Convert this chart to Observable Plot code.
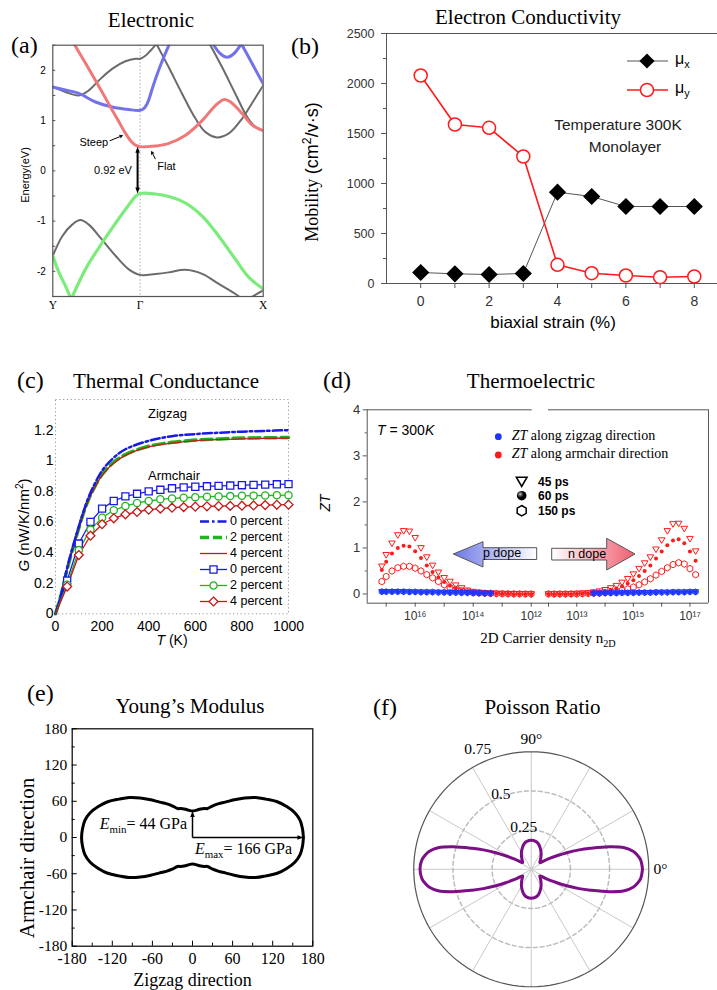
<!DOCTYPE html>
<html>
<head>
<meta charset="utf-8">
<script src="https://cdn.jsdelivr.net/npm/d3@7"></script>
<script src="https://cdn.jsdelivr.net/npm/@observablehq/plot@0.6"></script>
<style>
html,body{margin:0;padding:0;background:#fff;overflow:hidden;}
#fig{position:relative;width:717px;height:990px;overflow:hidden;background:#fff;}
.abs{position:absolute;white-space:nowrap;line-height:1;}
.abs sub,.abs sup{line-height:0;font-size:0.68em;}
</style>
</head>
<body>
<div id="fig"></div>
<script>
// ================= DATA =================
// (a) Band structure: k along Y–Γ–X (Y=0, Γ=0.415, X=1), energy (eV)
const kTickPos = [0, 0.415, 1];
const kTickLab = ["Y", "Γ", "X"];
const redK   = [0.105,0.15,0.203,0.245,0.282,0.315,0.345,0.37,0.39,0.415,0.45,0.488,0.551,0.631,0.71,0.773,0.815,0.845,0.9,0.948,1.0];
const redE   = [2.5,2.18,1.80,1.49,1.21,0.97,0.75,0.6,0.52,0.48,0.482,0.494,0.547,0.71,1.0,1.30,1.42,1.37,1.14,0.91,0.80];
const blueAK = [0,0.06,0.124,0.203,0.282,0.361,0.415,0.432,0.449,0.48,0.512,0.552];
const blueAE = [1.67,1.61,1.54,1.37,1.27,1.22,1.205,1.24,1.34,1.73,2.1,2.5];
const blueBK = [0.765,0.797,0.829,0.86,0.892];
const blueBE = [2.5,2.33,2.26,2.33,2.5];
const blueCK = [0.9,0.948,1.0];
const blueCE = [2.5,2.13,1.73];
const grayAK = [0,0.06,0.124,0.171,0.219,0.282,0.345,0.393,0.415,0.44,0.464,0.488];
const grayAE = [1.67,1.57,1.50,1.60,1.80,2.03,2.18,2.23,2.23,2.29,2.39,2.5];
const grayBK = [0.496,0.551,0.615,0.678,0.726,0.781,0.837,0.9,0.955,1.0];
const grayBE = [2.5,2.06,1.53,1.04,0.77,0.666,0.745,1.04,1.40,1.70];
const grayCK = [0.749,0.805,0.868,0.924,0.964,1.0];
const grayCE = [2.5,2.06,1.53,1.07,0.87,0.80];
const grayDK = [0,0.045,0.092,0.131,0.171,0.234,0.298,0.361,0.415,0.488,0.551,0.631,0.71,0.789,0.868,0.9];
const grayDE = [-1.69,-1.3,-1.07,-0.98,-1.07,-1.37,-1.69,-1.96,-2.07,-2.05,-2.02,-1.97,-2.05,-2.25,-2.45,-2.55];
const grayEK = [0.93,0.97,1.0];
const grayEE = [-2.55,-2.45,-2.38];
const greenAK = [0.088,0.155,0.219,0.282,0.345,0.393,0.415,0.488,0.551,0.631,0.71,0.789,0.868,0.932,1.0];
const greenAE = [-2.55,-1.96,-1.53,-1.14,-0.77,-0.51,-0.45,-0.46,-0.51,-0.64,-0.9,-1.30,-1.76,-2.12,-2.35];
const greenBK = [0,0.029,0.06,0.092];
const greenBE = [-1.69,-2.02,-2.29,-2.6];
const cbm = 0.48, vbm = -0.45;

// (b) Mobility vs biaxial strain
const strain = [0,1,2,3,4,5,6,7,8];
const muX = [110,97,90,100,913,870,770,770,770];
const muY = [2080,1590,1557,1270,187,103,80,63,70];

// (c) Thermal conductance G (nW/K/nm²) vs T (K)
const Tzig = [0,25,50,75,100,125,150,200,250,300,400,500,600,700,800,900,1000];
const zig0 = [0,0.13,0.30,0.44,0.57,0.69,0.79,0.935,1.02,1.075,1.13,1.16,1.174,1.183,1.19,1.195,1.2];
const zig2 = [0,0.13,0.29,0.43,0.56,0.68,0.775,0.91,0.99,1.04,1.095,1.12,1.135,1.142,1.148,1.15,1.152];
const zig4 = [0,0.13,0.29,0.43,0.555,0.675,0.77,0.905,0.985,1.035,1.09,1.115,1.13,1.138,1.143,1.146,1.148];
const Tarm = [0,50,100,150,200,250,300,350,400,450,500,550,600,650,700,750,800,850,900,950,1000];
const arm0 = [0,0.217,0.459,0.60,0.687,0.737,0.767,0.784,0.80,0.81,0.82,0.826,0.83,0.833,0.836,0.838,0.84,0.842,0.844,0.846,0.847];
const arm2 = [0,0.19,0.416,0.55,0.628,0.676,0.704,0.724,0.737,0.748,0.754,0.758,0.762,0.765,0.767,0.769,0.771,0.772,0.773,0.774,0.775];
const arm4 = [0,0.178,0.384,0.51,0.585,0.624,0.65,0.665,0.68,0.687,0.693,0.697,0.70,0.702,0.704,0.705,0.706,0.708,0.71,0.712,0.713];
const cLegendLabels = ["0 percent","2 percent","4 percent","0 percent","2 percent","4 percent"];

// (d) ZT vs 2D carrier density (log10 n)
const pLog = [17.15,17.0,16.8,16.6,16.4,16.2,16.0,15.8,15.6,15.4,15.2,15.0,14.8,14.6,14.4,14.2,14.0,13.8,13.6,13.4,13.2,13.0,12.8,12.6,12.4,12.2,12.0];
const pZT45  = [0.6,0.85,1.1,1.28,1.37,1.36,1.22,1.0,0.8,0.62,0.47,0.35,0.27,0.19,0.13,0.08,0.05,0.035,0.025,0.018,0.012,0.008,0.005,0.003,0.002,0.001,0];
const pZT60  = [0.52,0.7,0.88,1.0,1.05,1.03,0.93,0.78,0.62,0.48,0.36,0.26,0.18,0.12,0.08,0.05,0.035,0.025,0.017,0.012,0.008,0.005,0.003,0.002,0.001,0,0];
const pZT150 = [0.27,0.38,0.5,0.57,0.6,0.6,0.56,0.5,0.42,0.35,0.27,0.2,0.14,0.1,0.07,0.045,0.03,0.02,0.015,0.01,0.007,0.005,0.003,0.002,0.001,0,0];
const nLog = [12.0,12.2,12.4,12.6,12.8,13.0,13.2,13.4,13.6,13.8,14.0,14.2,14.4,14.6,14.8,15.0,15.2,15.4,15.6,15.8,16.0,16.2,16.4,16.6,16.8,17.0,17.2];
const nZT45  = [0,0,0,0,0.005,0.01,0.015,0.02,0.04,0.06,0.09,0.13,0.18,0.25,0.33,0.43,0.55,0.67,0.8,0.97,1.17,1.37,1.52,1.53,1.42,1.2,0.93];
const nZT60  = [0,0,0,0,0,0.005,0.01,0.015,0.025,0.04,0.06,0.085,0.12,0.17,0.23,0.3,0.39,0.5,0.62,0.77,0.92,1.06,1.16,1.19,1.1,0.92,0.72];
const nZT150 = [0,0,0,0,0,0,0.005,0.01,0.015,0.02,0.03,0.045,0.06,0.08,0.11,0.15,0.2,0.26,0.33,0.41,0.49,0.57,0.64,0.68,0.65,0.55,0.42];
const zzP = [0.05,0.05,0.05,0.05,0.05,0.045,0.045,0.04,0.04,0.04,0.035,0.035,0.03,0.03,0.025,0.025,0.02,0.02,0.015,0.015];
const zzN = [0.015,0.015,0.02,0.02,0.02,0.025,0.025,0.025,0.03,0.03,0.03,0.035,0.035,0.035,0.04,0.04,0.04,0.045,0.045];
const pDecades = [17,16,15,14,13,12];
const nDecades = [12,13,14,15,16,17];

// (e) Young's modulus E(θ), GPa (first quadrant, symmetric)
const thetaE = [0,5,10,15,20,25,30,35,40,45,50,55,60,65,70,75,80,85,90];
const modE   = [166,165.2,163.5,158.5,150,140,127,115.6,102,88.3,76.4,68.5,60.7,53,50.9,48.8,46.7,44.7,44];
const Emin = 44, Emax = 166;
const eMajor = [-180,-120,-60,0,60,120,180];
const eMinor = [-150,-90,-30,30,90,150];

// (f) Poisson ratio ν(θ) (first quadrant, symmetric)
const thetaNu = [0,5,8,10,13,16,19.5,22,25,28,32,35,38,42,50,60,68,75,81,90];
const nuVal   = [0.71,0.70,0.68,0.66,0.61,0.52,0.40,0.33,0.25,0.18,0.12,0.08,0.07,0.075,0.095,0.125,0.15,0.17,0.18,0.185];
const nuRings = [0.25,0.5,0.75];
const spokeAngles = [0,30,60,90,120,150,180,210,240,270,300,330];

// ================= HELPERS =================
const F_SERIF = '"Liberation Serif","Times New Roman",Times,serif';
const F_SANS = '"Liberation Sans",Arial,Helvetica,sans-serif';
const fig = document.getElementById("fig");
const st = (size, fam = F_SANS) => ({fontFamily: fam, fontSize: size + "px", background: "transparent", color: "#000", overflow: "visible"});
function put(svg, left, top) {
  Object.assign(svg.style, {position: "absolute", left: left + "px", top: top + "px", overflow: "visible", maxWidth: "none"});
  fig.appendChild(svg); return svg;
}
function txt(html, x, y, o = {}) {
  const size = o.size || 14;
  const d = document.createElement("div");
  d.className = "abs";
  d.innerHTML = html;
  Object.assign(d.style, {left: x + "px", fontSize: size + "px", fontFamily: o.family || F_SERIF,
    color: o.color || "#000", fontWeight: o.weight || "normal", fontStyle: o.style || "normal"});
  const tx = o.anchor === "middle" ? "-50%" : o.anchor === "end" ? "-100%" : "0";
  if (o.rotate) { d.style.top = y + "px"; d.style.transform = `translate(-50%,-50%) rotate(${o.rotate}deg)`; }
  else { d.style.top = (y - 0.86 * size) + "px"; d.style.transform = `translate(${tx},0)`; }
  fig.appendChild(d); return d;
}
function overlay(left, top, w, h) {
  const s = d3.create("svg").attr("width", w).attr("height", h)
    .style("position", "absolute").style("left", left + "px").style("top", top + "px").style("overflow", "visible");
  fig.appendChild(s.node()); return s;
}
// custom symbols
const triDown = {draw(c, s) { const r = Math.sqrt(s / Math.PI); c.moveTo(-r, -0.7 * r); c.lineTo(r, -0.7 * r); c.lineTo(0, r); c.closePath(); }};
const hexSym = {draw(c, s) { const r = Math.sqrt(s / Math.PI); for (let i = 0; i < 6; i++) { const a = -Math.PI / 2 + i * Math.PI / 3; const x = r * Math.cos(a), y = r * Math.sin(a); if (i) c.lineTo(x, y); else c.moveTo(x, y); } c.closePath(); }};
const headUp = {draw(c, s) { const r = Math.sqrt(s / Math.PI); c.moveTo(0, 0); c.lineTo(-0.75 * r, 2 * r); c.lineTo(0.75 * r, 2 * r); c.closePath(); }};
const headDown = {draw(c, s) { const r = Math.sqrt(s / Math.PI); c.moveTo(0, 0); c.lineTo(-0.75 * r, -2 * r); c.lineTo(0.75 * r, -2 * r); c.closePath(); }};
const headRight = {draw(c, s) { const r = Math.sqrt(s / Math.PI); c.moveTo(0, 0); c.lineTo(-2 * r, -0.75 * r); c.lineTo(-2 * r, 0.75 * r); c.closePath(); }};
const symPath = (type, r) => d3.symbol(type, Math.PI * r * r)();
const plain = d => String(d);

// ================= (a) =================
const band = (K, E, color, w) => Plot.line(K.map((k, i) => ({k, e: E[i]})),
  {x: "k", y: "e", stroke: color, strokeWidth: w, curve: "catmull-rom", clip: true, strokeLinecap: "round"});
const cGray = "#6b6b6b", cRedB = "#f07878", cBlueB = "#7272ec", cGreenB = "#7bec7b";
const aPlotW = 210.4;
const pA = Plot.plot({
  width: 270, height: 320, marginLeft: 52.3, marginRight: 7.3, marginTop: 44.7, marginBottom: 24,
  x: {domain: [0, 1]}, y: {domain: [-2.5, 2.5]}, style: st(10),
  marks: [
    Plot.ruleX([kTickPos[1]], {stroke: "#aaa", strokeDasharray: "1.5,2"}),
    band(grayAK, grayAE, cGray, 2), band(grayBK, grayBE, cGray, 2), band(grayCK, grayCE, cGray, 2),
    band(grayDK, grayDE, cGray, 2), band(grayEK, grayEE, cGray, 2),
    band(blueAK, blueAE, cBlueB, 3), band(blueBK, blueBE, cBlueB, 3), band(blueCK, blueCE, cBlueB, 3),
    band(redK, redE, cRedB, 3),
    band(greenAK, greenAE, cGreenB, 3.2), band(greenBK, greenBE, cGreenB, 3.2),
    Plot.frame({stroke: "#555", strokeWidth: 1.2}),
    Plot.tickY(d3.range(-2.5, 2.51, 0.5), {y: d => d, stroke: "#555", insetRight: aPlotW - 3}),
    Plot.axisY({ticks: [-2, -1, 0, 1, 2], tickSize: 0, tickPadding: 7, tickFormat: plain, fontSize: 10, label: null}),
    Plot.axisX({ticks: kTickPos, tickSize: 0, tickPadding: 4, tickFormat: d => kTickLab[kTickPos.indexOf(d)], fontFamily: F_SERIF, fontSize: 11.5, label: null}),
    Plot.link([0], {x1: 0.403, x2: 0.403, y1: vbm + 0.1, y2: cbm - 0.1, stroke: "#000", strokeWidth: 2}),
    Plot.dot([0], {x: 0.403, y: cbm, symbol: headUp, r: 3, fill: "#000", stroke: "none"}),
    Plot.dot([0], {x: 0.403, y: vbm, symbol: headDown, r: 3, fill: "#000", stroke: "none"}),
    Plot.text(["0.92 eV"], {x: 0.286, y: 0.0, text: d => d, fontSize: 11}),
    Plot.text(["Steep"], {x: 0.195, y: 0.57, text: d => d, fontSize: 11}),
    Plot.arrow([0], {x1: 0.272, y1: 0.6, x2: 0.33, y2: 0.7, stroke: "#000", strokeWidth: 1, headLength: 4}),
    Plot.text(["Flat"], {x: 0.54, y: 0.09, text: d => d, fontSize: 11}),
    Plot.arrow([0], {x1: 0.487, y1: 0.24, x2: 0.47, y2: 0.38, stroke: "#000", strokeWidth: 1, headLength: 4})
  ]
});
put(pA, 0, 0);

// ================= (b) =================
const bRed = "#ff1a1a";
const bRows = strain.map((s, i) => ({s, mx: muX[i], my: muY[i]}));
const pB = Plot.plot({
  width: 448, height: 340, marginLeft: 106, marginRight: 0, marginTop: 33, marginBottom: 57,
  x: {domain: [-1, 9]}, y: {domain: [0, 2500]}, style: st(13),
  marks: [
    Plot.frame({stroke: "#555"}),
    Plot.axisY({ticks: d3.range(0, 2501, 500), tickSize: 5, tickPadding: 7, tickFormat: plain, fontSize: 12.5, label: null, stroke: "#555", fill: "#333"}),
    Plot.axisY({ticks: d3.range(250, 2500, 500), tickSize: 3, tickFormat: () => "", label: null, stroke: "#555"}),
    Plot.axisX({ticks: [0, 2, 4, 6, 8], tickSize: 5, tickPadding: 8, tickFormat: plain, fontSize: 14, label: null, stroke: "#555", fill: "#333"}),
    Plot.axisX({ticks: [1, 3, 5, 7], tickSize: 5, tickFormat: () => "", label: null, stroke: "#555"}),
    Plot.line(bRows, {x: "s", y: "mx", stroke: "#555", strokeWidth: 1}),
    Plot.line(bRows, {x: "s", y: "my", stroke: bRed, strokeWidth: 1.6}),
    Plot.dot(bRows, {x: "s", y: "mx", symbol: "diamond2", r: 6.8, fill: "#000", stroke: "#000"}),
    Plot.dot(bRows, {x: "s", y: "my", symbol: "circle", r: 6.5, fill: "#fff", stroke: bRed, strokeWidth: 1.5})
  ]
});
put(pB, 280, 0);
{
  const s = overlay(620, 45, 55, 60);
  s.append("line").attr("x1", 7).attr("x2", 48).attr("y1", 16).attr("y2", 16).attr("stroke", "#555");
  s.append("path").attr("d", symPath(d3.symbolDiamond2, 6.8)).attr("transform", "translate(27,16)").attr("fill", "#000");
  s.append("line").attr("x1", 7).attr("x2", 48).attr("y1", 45).attr("y2", 45).attr("stroke", bRed).attr("stroke-width", 1.6);
  s.append("circle").attr("cx", 27).attr("cy", 45).attr("r", 6.5).attr("fill", "#fff").attr("stroke", bRed).attr("stroke-width", 1.5);
}

// ================= (c) =================
const cBlue = "#1a1ae6", cGreen = "#1fb51f", cRed = "#c41a1a";
const zigRows = Tzig.map((t, i) => ({t, z0: zig0[i], z2: zig2[i], z4: zig4[i]}));
const armRows = Tarm.map((t, i) => ({t, a0: arm0[i], a2: arm2[i], a4: arm4[i]}));
const armMk = armRows.filter(d => d.t > 0);
const pC = Plot.plot({
  width: 300, height: 270, marginLeft: 55, marginRight: 12, marginTop: 19, marginBottom: 36.7,
  x: {domain: [0, 1000]}, y: {domain: [0, 1.4]}, style: st(14),
  marks: [
    Plot.frame({stroke: "#999", strokeDasharray: "1.2,2.6"}),
    Plot.axisY({ticks: [0, 0.2, 0.4, 0.6, 0.8, 1, 1.2], tickSize: 0, tickPadding: 2, tickFormat: d => String(+d.toFixed(1)), fontSize: 14, label: null}),
    Plot.axisX({ticks: [0, 200, 400, 600, 800, 1000], tickSize: 0, tickPadding: 7, tickFormat: plain, fontSize: 14, label: null}),
    Plot.line(zigRows, {x: "t", y: "z2", stroke: cGreen, strokeWidth: 3.5, strokeDasharray: "11,5", curve: "catmull-rom"}),
    Plot.line(zigRows, {x: "t", y: "z4", stroke: cRed, strokeWidth: 1.3, curve: "catmull-rom"}),
    Plot.line(zigRows, {x: "t", y: "z0", stroke: cBlue, strokeWidth: 2.5, strokeDasharray: "9,3,2.5,3", curve: "catmull-rom"}),
    Plot.line(armRows, {x: "t", y: "a0", stroke: cBlue, strokeWidth: 1.3}),
    Plot.line(armRows, {x: "t", y: "a2", stroke: cGreen, strokeWidth: 1.3}),
    Plot.line(armRows, {x: "t", y: "a4", stroke: cRed, strokeWidth: 1.3}),
    Plot.dot(armMk, {x: "t", y: "a0", symbol: "square", r: 4, fill: "#fff", stroke: cBlue, strokeWidth: 1.3}),
    Plot.dot(armMk, {x: "t", y: "a2", symbol: "circle", r: 3.6, fill: "#fff", stroke: cGreen, strokeWidth: 1.3}),
    Plot.dot(armMk, {x: "t", y: "a4", symbol: "diamond2", r: 4, fill: "#fff", stroke: cRed, strokeWidth: 1.3})
  ]
});
put(pC, 0, 380);
{
  const s = overlay(195, 510, 40, 100);
  const styles = [
    {c: cBlue, w: 2.5, dash: "9,3,2.5,3"}, {c: cGreen, w: 3.5, dash: "9,4"}, {c: cRed, w: 1.3},
    {c: cBlue, w: 1.3, sym: d3.symbolSquare, r: 4}, {c: cGreen, w: 1.3, sym: d3.symbolCircle, r: 3.6}, {c: cRed, w: 1.3, sym: d3.symbolDiamond2, r: 4}
  ];
  styles.forEach((o, i) => {
    const y = 521.5 + 16 * i - 510;
    s.append("line").attr("x1", 5).attr("x2", 32).attr("y1", y).attr("y2", y).attr("stroke", o.c).attr("stroke-width", o.w).attr("stroke-dasharray", o.dash || null);
    if (o.sym) s.append("path").attr("d", symPath(o.sym, o.r)).attr("transform", `translate(18.5,${y})`).attr("fill", "#fff").attr("stroke", o.c).attr("stroke-width", 1.3);
    txt(cLegendLabels[i], 230, 521.5 + 16 * i + 4.4, {size: 12.5, family: F_SANS});
  });
}

// ================= (d) =================
const SUP = "⁰¹²³⁴⁵⁶⁷⁸⁹";
const supFmt = v => "10" + String(Math.round(Math.log10(v))).split("").map(c => SUP[+c]).join("");
const dHi = 17.655;
const dRed = "#ff1a1a", dBlue = "#1d35ff";
const pRows = pLog.map((e, i) => ({n: 10 ** e, a: pZT45[i], b: pZT60[i], c: pZT150[i]}));
const nRows = nLog.map((e, i) => ({n: 10 ** e, a: nZT45[i], b: nZT60[i], c: nZT150[i]}));
const zzPRows = zzP.map((z, i) => ({n: 10 ** pLog[i], z}));
const zzNRows = zzN.map((z, i) => ({n: 10 ** nLog[i + 8], z}));
const zMarks = (rows, zz) => [
  Plot.dot(rows, {x: "n", y: "c", symbol: hexSym, r: 3.3, fill: "none", stroke: dRed, strokeWidth: 1}),
  Plot.dot(rows, {x: "n", y: "a", symbol: triDown, r: 3.3, fill: "none", stroke: dRed, strokeWidth: 1}),
  Plot.dot(rows, {x: "n", y: "b", r: 2, fill: dRed, stroke: "none"}),
  Plot.dot(zz, {x: "n", y: "z", symbol: hexSym, r: 3, fill: "none", stroke: dBlue, strokeWidth: 1}),
  Plot.dot(zz, {x: "n", y: "z", symbol: triDown, r: 3, fill: "none", stroke: dBlue, strokeWidth: 1}),
  Plot.dot(zz, {x: "n", y: "z", r: 2.2, fill: dBlue, stroke: "none"})
];
const frameD = "#555";
const pDL = Plot.plot({
  width: 210.7, height: 260, marginLeft: 46.7, marginRight: 0, marginTop: 9.3, marginBottom: 57.3,
  x: {type: "log", domain: [10 ** dHi, 1e12]}, y: {domain: [-0.2, 4]}, style: st(13),
  marks: [
    ...zMarks(pRows, zzPRows),
    Plot.ruleX([10 ** dHi], {stroke: frameD}),
    Plot.ruleY([4], {stroke: frameD, insetRight: -1}),
    Plot.ruleY([-0.2], {stroke: frameD, insetRight: -17.6}),
    Plot.axisY({ticks: [0, 1, 2, 3, 4], tickSize: 4, tickPadding: 3, tickFormat: plain, fontSize: 13, label: null, stroke: frameD, fill: "#333"}),
    Plot.axisY({ticks: [0.5, 1.5, 2.5, 3.5], tickSize: 2, tickFormat: () => "", label: null, stroke: frameD}),
    Plot.axisX({ticks: pDecades.map(e => 10 ** e), tickSize: 4, tickPadding: 4, fontSize: 12, label: null, stroke: frameD, fill: "#333",
      tickFormat: v => Math.round(Math.log10(v)) % 2 === 0 ? supFmt(v) : ""})
  ]
});
put(pDL, 320, 400);
const pDR = Plot.plot({
  width: 168.7, height: 260, marginLeft: 0, marginRight: 8.7, marginTop: 9.3, marginBottom: 57.3,
  x: {type: "log", domain: [1e12, 10 ** dHi]}, y: {domain: [-0.2, 4], axis: null}, style: st(13),
  marks: [
    ...zMarks(nRows, zzNRows),
    Plot.ruleX([10 ** dHi], {stroke: frameD}),
    Plot.ruleY([4], {stroke: frameD}),
    Plot.ruleY([-0.2], {stroke: frameD}),
    Plot.axisX({ticks: nDecades.map(e => 10 ** e), tickSize: 4, tickPadding: 4, fontSize: 12, label: null, stroke: frameD, fill: "#333",
      tickFormat: v => Math.round(Math.log10(v)) % 2 === 1 ? supFmt(v) : ""})
  ]
});
put(pDR, 548.3, 400);
{
  const s = overlay(320, 400, 397, 250);
  const defs = s.append("defs");
  const gp = defs.append("linearGradient").attr("id", "gp");
  gp.append("stop").attr("offset", "0").attr("stop-color", "#6c78e4");
  gp.append("stop").attr("offset", "1").attr("stop-color", "#ffffff");
  const gn = defs.append("linearGradient").attr("id", "gn");
  gn.append("stop").attr("offset", "0").attr("stop-color", "#ffffff");
  gn.append("stop").attr("offset", "1").attr("stop-color", "#ef5f70");
  const rg = defs.append("radialGradient").attr("id", "ball").attr("cx", "0.35").attr("cy", "0.35").attr("r", "0.7");
  rg.append("stop").attr("offset", "0").attr("stop-color", "#bbb");
  rg.append("stop").attr("offset", "0.5").attr("stop-color", "#000");
  const P = pts => pts.map(p => [p[0] - 320, p[1] - 400].join(",")).join(" ");
  s.append("polygon").attr("points", P([[453.3, 554], [483, 541.7], [483, 547.7], [536.7, 547.7], [536.7, 559.5], [483, 559.5], [483, 567]]))
    .attr("fill", "url(#gp)").attr("stroke", "#555");
  s.append("polygon").attr("points", P([[551.7, 548.3], [606.7, 548.3], [606.7, 538.3], [635, 554], [606.7, 570], [606.7, 560], [551.7, 560]]))
    .attr("fill", "url(#gn)").attr("stroke", "#555");
  s.append("circle").attr("cx", 498.3 - 320).attr("cy", 436.7 - 400).attr("r", 3.4).attr("fill", dBlue);
  s.append("circle").attr("cx", 498.3 - 320).attr("cy", 455 - 400).attr("r", 3.4).attr("fill", dRed);
  s.append("path").attr("d", symPath(triDown, 5.3)).attr("transform", `translate(${521.7 - 320},${481 - 400})`).attr("fill", "#fff").attr("stroke", "#000").attr("stroke-width", 1.6);
  s.append("circle").attr("cx", 521.7 - 320).attr("cy", 495.7 - 400).attr("r", 4.8).attr("fill", "url(#ball)");
  s.append("path").attr("d", symPath(hexSym, 5.2)).attr("transform", `translate(${521.7 - 320},${510.7 - 400})`).attr("fill", "#fff").attr("stroke", "#000").attr("stroke-width", 1.5);
}

// ================= (e) =================
const eMap = new Map(thetaE.map((t, i) => [t, modE[i]]));
const fullAngles = (ths) => Array.from(new Set(ths.flatMap(t => [t, 180 - t, 180 + t, 360 - t]).map(a => Math.round(a * 10) / 10))).sort((a, b) => a - b);
const reduceAng = a => { let r = a % 180; if (r > 90) r = 180 - r; return Math.round(r * 10) / 10; };
const ePts = fullAngles(thetaE).map(a => { const E = eMap.get(reduceAng(a)); return {x: E * Math.cos(a * Math.PI / 180), y: E * Math.sin(a * Math.PI / 180)}; });
const ePlotW = 240.6, ePlotH = 217.4;
const pE = Plot.plot({
  width: 330, height: 300, marginLeft: 71.7, marginRight: 17.7, marginTop: 38.3, marginBottom: 44.3,
  x: {domain: [-180, 180]}, y: {domain: [-180, 180]}, style: st(16, F_SERIF),
  marks: [
    Plot.frame({stroke: "#000", strokeWidth: 1.2}),
    Plot.tickX(eMajor, {x: d => d, stroke: "#000", insetTop: ePlotH - 5}),
    Plot.tickX(eMinor, {x: d => d, stroke: "#000", insetTop: ePlotH - 3}),
    Plot.tickY(eMajor, {y: d => d, stroke: "#000", insetRight: ePlotW - 5}),
    Plot.tickY(eMinor, {y: d => d, stroke: "#000", insetRight: ePlotW - 3}),
    Plot.axisX({ticks: eMajor, tickSize: 0, tickPadding: 6, tickFormat: plain, fontSize: 16, fontFamily: F_SERIF, label: null}),
    Plot.axisY({ticks: eMajor, tickSize: 0, tickPadding: 5, tickFormat: plain, fontSize: 15.5, fontFamily: F_SERIF, label: null}),
    Plot.line(ePts, {x: "x", y: "y", stroke: "#000", strokeWidth: 3, curve: "catmull-rom-closed"}),
    Plot.link([0], {x1: 0, y1: 0, x2: 0, y2: Emin - 6, stroke: "#000", strokeWidth: 1.5}),
    Plot.dot([0], {x: 0, y: Emin, symbol: headUp, r: 3, fill: "#000", stroke: "none"}),
    Plot.link([0], {x1: 0, y1: 0, x2: Emax - 6, y2: 0, stroke: "#000", strokeWidth: 1.5}),
    Plot.dot([0], {x: Emax, y: 0, symbol: headRight, r: 3, fill: "#000", stroke: "none"})
  ]
});
put(pE, 0, 690);

// ================= (f) =================
const nuMap = new Map(thetaNu.map((t, i) => [t, nuVal[i]]));
const nuPts = fullAngles(thetaNu).map(a => { const v = nuMap.get(reduceAng(a)); return {x: v * Math.cos(a * Math.PI / 180), y: v * Math.sin(a * Math.PI / 180)}; });
const ringPts = nuRings.flatMap(r => d3.range(0, 361, 3).map(a => ({r, x: r * Math.cos(a * Math.PI / 180), y: r * Math.sin(a * Math.PI / 180)})));
const fPx = 156.7, fCx = 530.7, fCy = 868.3;
const fX0 = -0.86, fX1 = 0.86, fY0 = -0.8, fY1 = 0.86;
const rad = a => a * Math.PI / 180;
const ringLabels = [{t: "0.25", r: 0.274, a: 100}, {t: "0.5", r: 0.517, a: 112}, {t: "0.75", r: 0.84, a: 114}];
const pF = Plot.plot({
  width: (fX1 - fX0) * fPx, height: (fY1 - fY0) * fPx, margin: 0,
  x: {domain: [fX0, fX1], axis: null}, y: {domain: [fY0, fY1], axis: null}, style: st(15.5, F_SERIF),
  marks: [
    Plot.link(spokeAngles, {x1: 0, y1: 0, x2: a => 0.75 * Math.cos(rad(a)), y2: a => 0.75 * Math.sin(rad(a)), stroke: "#c8c8c8", strokeWidth: 1}),
    Plot.line(ringPts.filter(d => d.r < 0.7), {x: "x", y: "y", z: "r", stroke: "#bdbdbd", strokeDasharray: "4,3"}),
    Plot.line(ringPts.filter(d => d.r > 0.7), {x: "x", y: "y", stroke: "#555", strokeWidth: 1.2}),
    Plot.line(nuPts, {x: "x", y: "y", stroke: "#7a0f86", strokeWidth: 3, curve: "catmull-rom-closed"}),
    Plot.text(ringLabels, {x: d => d.r * Math.cos(rad(d.a)), y: d => d.r * Math.sin(rad(d.a)), text: "t", fontSize: 15.5, fontFamily: F_SERIF}),
    Plot.text(["90°"], {x: 0, y: 0.83, text: d => d, fontSize: 15.5, fontFamily: F_SERIF}),
    Plot.text(["0°"], {x: 0.825, y: 0, text: d => d, fontSize: 15.5, fontFamily: F_SERIF})
  ]
});
put(pF, fCx + fX0 * fPx, fCy - fY1 * fPx);

// ================= TEXT =================
txt("Electronic", 151, 28, {size: 21, anchor: "middle"});
txt("(a)", 11, 54, {size: 24});
txt("Energy(eV)", 25, 175, {size: 11, family: F_SANS, rotate: -90});
txt("Electron Conductivity", 528, 25, {size: 21, anchor: "middle"});
txt("(b)", 291, 55, {size: 24});
txt(`Mobility <span style='font-family:${F_SANS.replace(/"/g, "")}'>(cm<sup>2</sup>/v·s)</span>`, 312, 172, {size: 18, rotate: -90});
txt("biaxial strain (%)", 553, 329, {size: 17, family: F_SANS, anchor: "middle"});
txt("μ<sub>x</sub>", 675, 65, {size: 16, family: F_SANS});
txt("μ<sub>y</sub>", 675, 94, {size: 16, family: F_SANS});
txt("Temperature 300K", 618, 130, {size: 15.5, family: F_SANS, anchor: "middle", color: "#222"});
txt("Monolayer", 625, 152, {size: 15.5, family: F_SANS, anchor: "middle", color: "#222"});

txt("(c)", 17, 389, {size: 24});
txt("Thermal Conductance", 166, 389, {size: 21, anchor: "middle"});
txt("<i>G</i> (nW/K/nm<sup>2</sup>)", 23, 525, {size: 15, family: F_SANS, rotate: -90});
txt("<i>T</i> (K)", 172, 645, {size: 14, family: F_SANS, anchor: "middle"});
txt("Zigzag", 148, 418, {size: 13, family: F_SANS});
txt("Armchair", 148, 480, {size: 13, family: F_SANS});

txt("(d)", 323, 389, {size: 24});
txt("Thermoelectric", 531, 389, {size: 21, anchor: "middle"});
txt("<i>ZT</i>", 325, 503, {size: 14, family: F_SANS, rotate: -90});
txt("<i>T</i> = 300<i>K</i>", 377, 435, {size: 14, family: F_SANS});
txt("<i>ZT</i> along zigzag direction", 511.7, 441, {size: 14});
txt("<i>ZT</i> along armchair direction", 511.7, 459.5, {size: 14});
txt("45 ps", 538, 486, {size: 12, family: F_SANS, weight: "bold"});
txt("60 ps", 538, 500.5, {size: 12, family: F_SANS, weight: "bold"});
txt("150 ps", 538, 515, {size: 12, family: F_SANS, weight: "bold"});
txt("p dope", 502, 558, {size: 12.5, family: F_SANS, anchor: "middle"});
txt("n dope", 587, 558.5, {size: 12.5, family: F_SANS, anchor: "middle"});
txt("2D Carrier density n<sub>2D</sub>", 548, 644, {size: 15, anchor: "middle"});

txt("(e)", 27, 702, {size: 24});
txt("Young’s Modulus", 190, 714, {size: 21, anchor: "middle"});
txt("Armchair direction", 27, 858, {size: 21, rotate: -90});
txt("Zigzag direction", 192.5, 986, {size: 18, anchor: "middle"});
txt("<i>E</i><sub>min</sub>= 44 GPa", 187, 830, {size: 16, anchor: "end"});
txt("<i>E</i><sub>max</sub>= 166 GPa", 195, 855, {size: 16});

txt("(f)", 373, 716, {size: 24});
txt("Poisson Ratio", 542.5, 715, {size: 21, anchor: "middle"});
</script>
</body>
</html>
